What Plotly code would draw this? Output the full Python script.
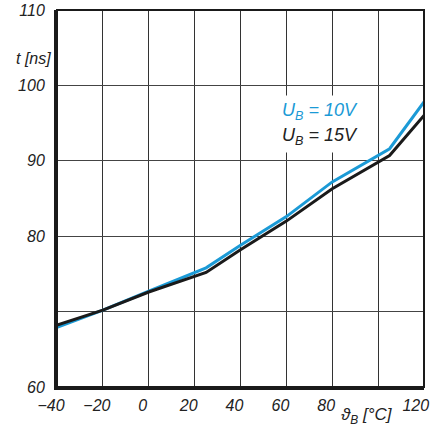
import plotly.graph_objects as go

temps = [-40, -20, 0, 25, 40, 60, 80, 105, 120]
t_10v = [67.9, 70.2, 72.7, 75.8, 78.8, 82.6, 87.2, 91.6, 97.8]
t_15v = [68.2, 70.2, 72.6, 75.2, 78.2, 82.0, 86.3, 90.7, 96.0]

x_ticks = [-40, -20, 0, 20, 40, 60, 80, 120]
x_labels = ["\u221240", "\u221220", "0", "20", "40", "60", "80", "120\u00a0"]
x_grid = [-40, -20, 0, 20, 40, 60, 80, 100, 120]
y_ticks = [60, 80, 90, 100, 110]
y_labels = ["60", "80", "90", "100", "110"]
y_grid = [60, 70, 80, 90, 100, 110]

BLUE = "#1b9ad6"
FONT = "Liberation Sans, DejaVu Sans"
TXT = "#222"

fig = go.Figure()
fig.add_trace(go.Scatter(x=[None], y=[None], xaxis="x2", yaxis="y2", showlegend=False))
fig.add_trace(go.Scatter(x=temps, y=t_10v, mode="lines",
                         line=dict(color=BLUE, width=3), showlegend=False))
fig.add_trace(go.Scatter(x=temps, y=t_15v, mode="lines",
                         line=dict(color="#1a1a1a", width=3), showlegend=False))

tickfont = dict(family=FONT, size=16, color=TXT, style="italic")

fig.update_layout(
    width=436, height=429,
    margin=dict(l=57, r=2, t=9, b=42),
    paper_bgcolor="white", plot_bgcolor="white",
    xaxis=dict(range=[-40, 120], tickvals=x_ticks, ticktext=x_labels,
               showgrid=False, zeroline=False,
               showline=True, linecolor="#1a1a1a", linewidth=3,
               ticks="", tickfont=tickfont, ticklabelshift=-6, ticklabelstandoff=2,
               ticklabeloverflow="allow"),
    yaxis=dict(range=[60, 110], tickvals=y_ticks, ticktext=y_labels,
               showgrid=False, zeroline=False,
               showline=True, linecolor="#1a1a1a", linewidth=3,
               ticks="", tickfont=tickfont, ticklabelstandoff=6),
    xaxis2=dict(range=[-40, 120], overlaying="x", tickvals=x_grid, showticklabels=False,
                showgrid=True, gridcolor="#333", gridwidth=1, zeroline=False),
    yaxis2=dict(range=[60, 110], overlaying="y", tickvals=y_grid, showticklabels=False,
                showgrid=True, gridcolor="#444", gridwidth=1, zeroline=False),
    shapes=[dict(type="rect", xref="paper", yref="paper", x0=0, x1=1, y0=0, y1=1,
                 line=dict(color="#1a1a1a", width=2), layer="above")],
    annotations=[
        dict(xref="paper", yref="paper", x=0, y=0.871, xanchor="right", yanchor="middle",
             xshift=-4, text="t [ns]", showarrow=False,
             font=dict(family=FONT, size=16, color=TXT, style="italic")),
        dict(xref="paper", yref="paper", x=0.845, y=0, xanchor="center", yanchor="top",
             yshift=-16, text="\u03d1<sub>B</sub> [°C]", showarrow=False,
             font=dict(family=FONT, size=17, color=TXT, style="italic")),
        dict(xref="paper", yref="paper", x=0.6, y=0.739, xanchor="left", yanchor="middle",
             yshift=-3, text="U<sub>B</sub> = 10V", showarrow=False, bgcolor="white",
             borderpad=4, font=dict(family=FONT, size=18, color=BLUE, style="italic")),
        dict(xref="paper", yref="paper", x=0.6, y=0.673, xanchor="left", yanchor="middle",
             yshift=-3, text="U<sub>B</sub> = 15V", showarrow=False, bgcolor="white",
             borderpad=4, font=dict(family=FONT, size=18, color=TXT, style="italic")),
    ],
)

fig.write_html("out.html")
